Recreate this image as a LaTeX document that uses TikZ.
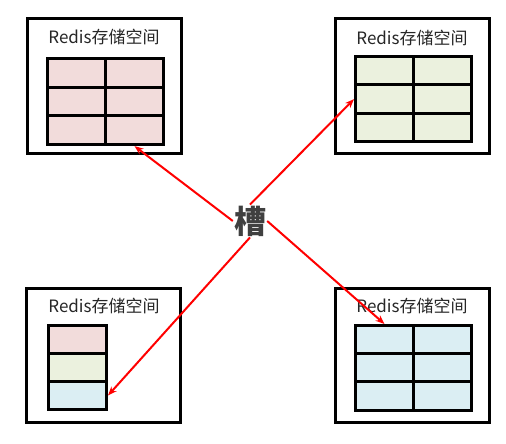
\documentclass[tikz,border=0pt]{standalone}
\usepackage{fontspec}
\setmainfont{Noto Sans CJK SC}
\usetikzlibrary{arrows.meta}
\definecolor{pinkcell}{HTML}{F2DCDB}
\definecolor{greencell}{HTML}{EBF1DE}
\definecolor{bluecell}{HTML}{DBEEF3}
\definecolor{titlegray}{HTML}{262626}
\definecolor{slotgray}{HTML}{404040}
\begin{document}
\begin{tikzpicture}[x=1pt, y=-1pt,
		% Stile per i riquadri esterni (spazio di memoria)
		box style/.style={draw=black, line width=3pt, minimum width=154pt, minimum height=134pt, inner sep=0pt},
		% Stile per il titolo dei riquadri
		title style/.style={font=\fontsize{17}{20}\selectfont, text=titlegray, inner sep=0pt},
		% Stile per le celle delle tabelle
		cell style/.style={draw=black, line width=3pt, anchor=north west, inner sep=0pt, minimum width=58pt, minimum height=28.7pt},
		% Stile per le frecce rosse
		link style/.style={draw=red, line width=2pt, -{Stealth[length=9pt, width=7pt]}}
	]

	% area di disegno
	\useasboundingbox (0,0) rectangle (506,444);

	% =================================
	% RIQUADRI ESTERNI
	% =================================
	\node[box style] (boxTL) at (104,86) {};
	\node[box style] (boxTR) at (412.5,86) {};
	\node[box style] (boxBL) at (103.5,355.5) {};
	\node[box style] (boxBR) at (412.5,355.5) {};

	% Titoli
	\node[title style] (titTL) at (104,37) {Redis存储空间};
	\node[title style] (titTR) at (412,38) {Redis存储空间};
	\node[title style] (titBL) at (104,306) {Redis存储空间};
	\node[title style] (titBR) at (412,306) {Redis存储空间};

	% =================================
	% TABELLE (celle)
	% =================================
	\foreach \r in {0,1,2} {
		\foreach \c in {0,1} {
			\node[cell style, fill=pinkcell] (tl\r\c) at (46+58*\c, 57+28.7*\r) {};
			\node[cell style, fill=greencell] (tr\r\c) at (354+58*\c, 55+28.3*\r) {};
			\node[cell style, fill=bluecell] (br\r\c) at (354+57.5*\c, 324+28*\r) {};
		}
	}

	% Tabella con una sola colonna (in basso a sinistra)
	\node[cell style, fill=pinkcell, minimum height=28pt] (bl0) at (47,324) {};
	\node[cell style, fill=greencell, minimum height=28pt] (bl1) at (47,352) {};
	\node[cell style, fill=bluecell, minimum height=28pt] (bl2) at (47,380) {};

	% =================================
	% NODO CENTRALE
	% =================================
	\node[font=\fontsize{32}{34}\selectfont\bfseries, text=slotgray, inner sep=1pt] (cao) at (250,221) {槽};

	% =================================
	% CONNESSIONI (frecce)
	% =================================
	\draw[link style] (cao.west) -- (tl21.south);
	\draw[link style] (cao.north) -- (tr10.west);
	\draw[link style] (cao.south) -- (bl2.east);
	\draw[link style] (cao.east) -- (br00.north);

\end{tikzpicture}
\end{document}
